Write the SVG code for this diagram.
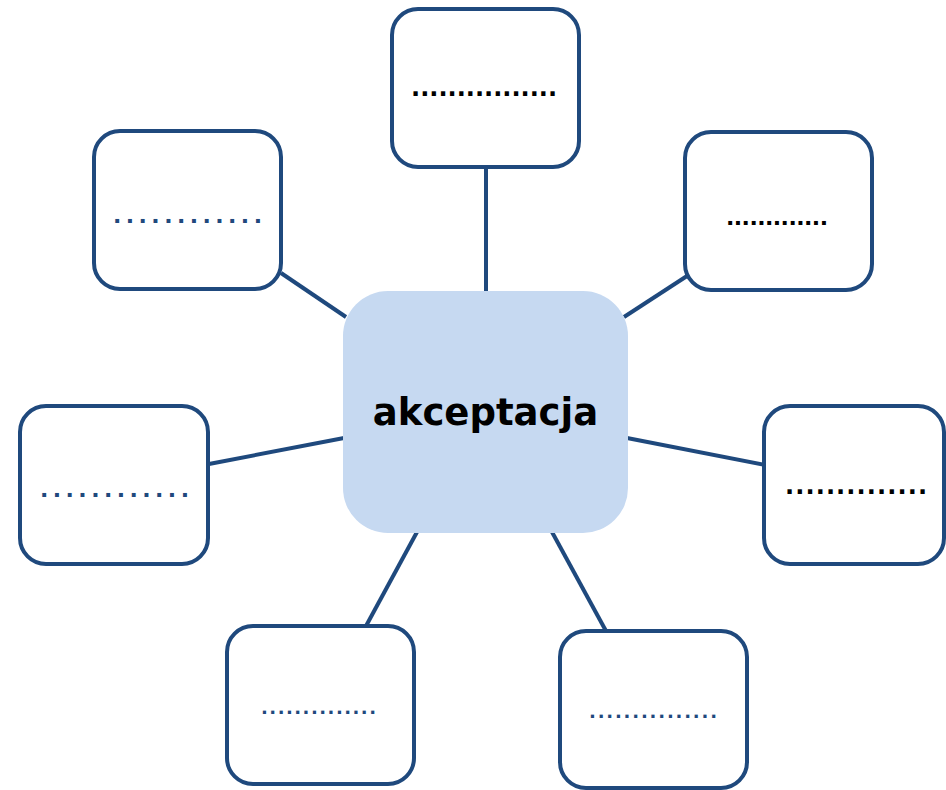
<svg xmlns="http://www.w3.org/2000/svg" width="946" height="790" viewBox="0 0 946 790">
<style>
.box{fill:#ffffff;stroke:#1F497D;stroke-width:4}
.center{fill:#C6D9F1;stroke:none}
.conn{stroke:#1F497D;stroke-width:4;fill:none}
.dk{font-family:"DejaVu Sans",sans-serif;font-weight:bold;fill:#000000}
.bl{font-family:"DejaVu Sans",sans-serif;font-weight:bold;fill:#1F497D}
.main{font-family:"DejaVu Sans",sans-serif;font-weight:bold;font-size:37px;fill:#000000}
</style>
<rect width="946" height="790" fill="#ffffff"/>
<g id="connectors">
<line class="conn" x1="486" y1="168" x2="486" y2="293"/>
<line class="conn" x1="281" y1="273" x2="346" y2="317"/>
<line class="conn" x1="624" y1="317" x2="687" y2="276"/>
<line class="conn" x1="209" y1="464" x2="344" y2="438"/>
<line class="conn" x1="627" y1="438" x2="765" y2="465"/>
<line class="conn" x1="417" y1="532" x2="366" y2="626"/>
<line class="conn" x1="552" y1="532" x2="606" y2="631"/>
</g>
<g id="center">
<rect class="center" x="343" y="291" width="285" height="242" rx="45" ry="45"/>
<text class="main" x="485.5" y="425" text-anchor="middle">akceptacja</text>
</g>
<g id="n-top">
<rect class="box" x="392" y="9" width="187" height="158" rx="26"/>
<text class="dk" x="411" y="96" font-size="24" textLength="146" lengthAdjust="spacing">................</text>
</g>
<g id="n-topleft">
<rect class="box" x="94" y="131" width="187" height="158" rx="26"/>
<text class="bl" x="113" y="223" font-size="22" textLength="149" lengthAdjust="spacing">............</text>
</g>
<g id="n-topright">
<rect class="box" x="685" y="132" width="187" height="158" rx="26"/>
<text class="dk" x="726" y="225" font-size="22" textLength="102" lengthAdjust="spacing">.............</text>
</g>
<g id="n-left">
<rect class="box" x="20" y="406" width="188" height="158" rx="26"/>
<text class="bl" x="40" y="497" font-size="22" textLength="149" lengthAdjust="spacing">............</text>
</g>
<g id="n-right">
<rect class="box" x="764" y="406" width="180" height="158" rx="26"/>
<text class="dk" x="785" y="494" font-size="24" textLength="142" lengthAdjust="spacing">..............</text>
</g>
<g id="n-bottomleft">
<rect class="box" x="227" y="626" width="187" height="158" rx="26"/>
<text class="bl" x="261" y="714" font-size="18" textLength="115" lengthAdjust="spacing">..............</text>
</g>
<g id="n-bottomright">
<rect class="box" x="560" y="631" width="187" height="157" rx="26"/>
<text class="bl" x="589" y="718" font-size="18" textLength="128" lengthAdjust="spacing">...............</text>
</g>
</svg>
